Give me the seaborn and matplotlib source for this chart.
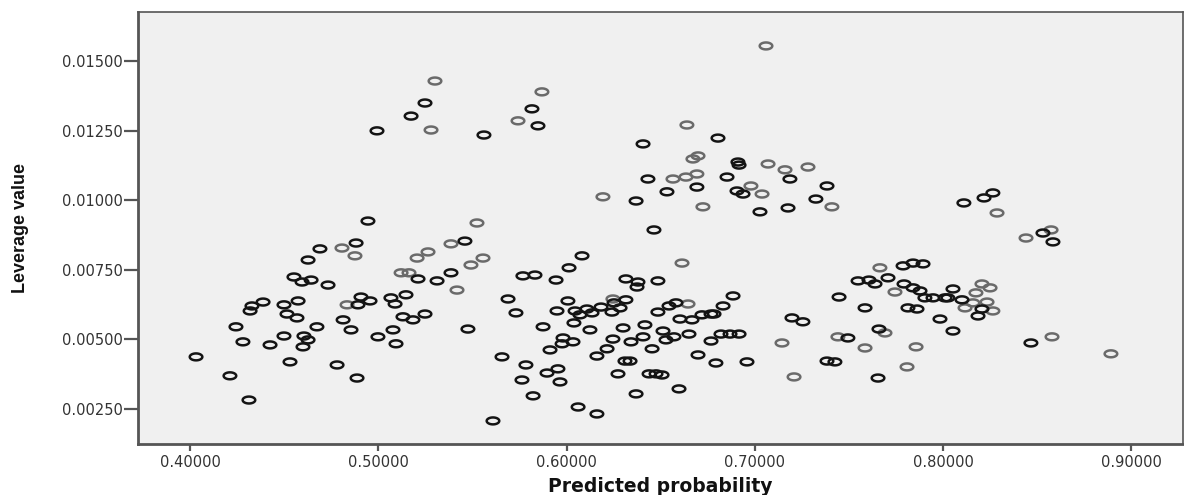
import numpy as np
import pandas as pd
import matplotlib
matplotlib.use("Agg")
import matplotlib.pyplot as plt
from matplotlib.path import Path
import seaborn as sns

# darker (overlapping) circles
x_dark = [0.4993, 0.4945, 0.4882, 0.4690, 0.4627, 0.4552, 0.4595, 0.4643, 0.4733, 0.4388,
          0.4329, 0.4319, 0.4499, 0.4574, 0.4892, 0.4908, 0.4956, 0.5067, 0.5089, 0.4515,
          0.4568, 0.4813, 0.4244, 0.4674, 0.4855, 0.5131, 0.4499, 0.4605, 0.4627, 0.4600,
          0.4281, 0.4425, 0.4998, 0.5078, 0.5094, 0.4032, 0.4531, 0.4781, 0.4212, 0.4887,
          0.4313, 0.5184, 0.5248, 0.5147, 0.5211, 0.5312, 0.5386, 0.5460, 0.5476, 0.5689,
          0.5731, 0.5657, 0.5784, 0.5763, 0.5822, 0.5609, 0.5768, 0.5832, 0.5944, 0.6013,
          0.6082, 0.6007, 0.5949, 0.6045, 0.6108, 0.6071, 0.6135, 0.6183, 0.6039, 0.6124,
          0.5875, 0.5981, 0.5976, 0.6034, 0.5912, 0.5896, 0.5954, 0.5965, 0.6061, 0.6161,
          0.6161, 0.6315, 0.6379, 0.6374, 0.6485, 0.6252, 0.6315, 0.6284, 0.6241, 0.6300,
          0.6416, 0.6246, 0.6342, 0.6406, 0.6512, 0.6528, 0.6570, 0.6215, 0.6454, 0.6310,
          0.6337, 0.6273, 0.6438, 0.6507, 0.6475, 0.6369, 0.6597, 0.6464, 0.6485, 0.6544,
          0.6581, 0.6602, 0.6666, 0.6719, 0.6767, 0.6783, 0.6831, 0.6884, 0.6650, 0.6767,
          0.6698, 0.6793, 0.6820, 0.6868, 0.6916, 0.6958, 0.7197, 0.7255,
          0.6406, 0.6804, 0.6910, 0.6916, 0.6432, 0.6852, 0.7186, 0.6533, 0.6692, 0.6905,
          0.6937, 0.6369, 0.7027, 0.7176, 0.7324, 0.7383, 0.5248, 0.5174, 0.5816, 0.5848,
          0.5561, 0.8110, 0.8217, 0.8264, 0.8530, 0.8583, 0.8466,
          0.7787, 0.7840, 0.7893, 0.7548, 0.7606, 0.7638, 0.7707, 0.7792, 0.7840, 0.7877,
          0.7447, 0.7903, 0.7946, 0.8010, 0.8025, 0.8052, 0.8100, 0.8206, 0.8185, 0.7585,
          0.7813, 0.7861, 0.7983, 0.8052, 0.7494, 0.7659, 0.7383, 0.7425, 0.7654]
y_dark = [0.01249, 0.00925, 0.00846, 0.00825, 0.00785, 0.00724, 0.00706, 0.00713, 0.00695, 0.00634,
          0.00620, 0.00602, 0.00624, 0.00638, 0.00624, 0.00652, 0.00638, 0.00649, 0.00627, 0.00591,
          0.00577, 0.00570, 0.00545, 0.00545, 0.00534, 0.00581, 0.00512, 0.00512, 0.00498, 0.00473,
          0.00491, 0.00480, 0.00509, 0.00534, 0.00484, 0.00437, 0.00419, 0.00408, 0.00369, 0.00361,
          0.00282, 0.00570, 0.00591, 0.00660, 0.00717, 0.00710, 0.00739, 0.00853, 0.00537, 0.00645,
          0.00595, 0.00437, 0.00408, 0.00354, 0.00297, 0.00207, 0.00728, 0.00731, 0.00713, 0.00757,
          0.00800, 0.00638, 0.00602, 0.00602, 0.00609, 0.00588, 0.00595, 0.00616, 0.00559, 0.00534,
          0.00545, 0.00505, 0.00484, 0.00491, 0.00462, 0.00379, 0.00394, 0.00347, 0.00257, 0.00232,
          0.00440, 0.00717, 0.00706, 0.00688, 0.00710, 0.00631, 0.00642, 0.00613, 0.00598, 0.00541,
          0.00552, 0.00501, 0.00491, 0.00509, 0.00530, 0.00498, 0.00509, 0.00466, 0.00466, 0.00422,
          0.00422, 0.00376, 0.00376, 0.00372, 0.00376, 0.00304, 0.00322, 0.00893, 0.00598, 0.00620,
          0.00631, 0.00573, 0.00570, 0.00588, 0.00591, 0.00591, 0.00620, 0.00656, 0.00519, 0.00494,
          0.00444, 0.00415, 0.00519, 0.00519, 0.00519, 0.00419, 0.00577, 0.00563,
          0.01202, 0.01223, 0.01137, 0.01126, 0.01076, 0.01083, 0.01076, 0.01030, 0.01047, 0.01033,
          0.01022, 0.00997, 0.00958, 0.00972, 0.01004, 0.01051, 0.01349, 0.01302, 0.01328, 0.01267,
          0.01234, 0.00990, 0.01008, 0.01026, 0.00882, 0.00850, 0.00487,
          0.00764, 0.00774, 0.00771, 0.00710, 0.00713, 0.00699, 0.00721, 0.00699, 0.00685, 0.00674,
          0.00652, 0.00649, 0.00649, 0.00649, 0.00649, 0.00681, 0.00642, 0.00609, 0.00584, 0.00613,
          0.00613, 0.00609, 0.00573, 0.00530, 0.00505, 0.00537, 0.00422, 0.00419, 0.00361]

# lighter single circles
x_gray = [0.7059, 0.5301, 0.5869, 0.5280, 0.5742, 0.6639, 0.6671, 0.6698, 0.7070, 0.7160,
          0.7282, 0.6565, 0.6634, 0.6692, 0.6979, 0.7038, 0.6193, 0.6724, 0.7409, 0.8286,
          0.8440, 0.8573, 0.8578, 0.8891, 0.4807, 0.4876, 0.4834, 0.5121, 0.5163, 0.5386,
          0.5264, 0.5206, 0.5556, 0.5492, 0.5418, 0.5524, 0.6613, 0.6246, 0.6645, 0.7144,
          0.7208, 0.7664, 0.7744, 0.8206, 0.8249, 0.8174, 0.8233, 0.8158, 0.8116, 0.8264,
          0.7441, 0.7691, 0.7585, 0.7856, 0.7808]
y_gray = [0.01554, 0.01428, 0.01389, 0.01252, 0.01285, 0.01270, 0.01148, 0.01159, 0.01130, 0.01109,
          0.01119, 0.01076, 0.01083, 0.01094, 0.01051, 0.01022, 0.01012, 0.00976, 0.00976, 0.00954,
          0.00864, 0.00893, 0.00509, 0.00448, 0.00828, 0.00800, 0.00624, 0.00739, 0.00739, 0.00843,
          0.00814, 0.00792, 0.00792, 0.00767, 0.00677, 0.00918, 0.00774, 0.00645, 0.00627, 0.00487,
          0.00365, 0.00757, 0.00670, 0.00699, 0.00685, 0.00667, 0.00634, 0.00631, 0.00613, 0.00602,
          0.00509, 0.00523, 0.00469, 0.00473, 0.00401]

x_ticks = [0.4, 0.5, 0.6, 0.7, 0.8, 0.9]
y_ticks = [0.0025, 0.005, 0.0075, 0.01, 0.0125, 0.015]

sns.set_style("ticks")
plt.rcParams["font.family"] = ["DejaVu Sans"]

df = pd.concat([
    pd.DataFrame({"prob": x_dark, "lev": y_dark, "shade": "dark"}),
    pd.DataFrame({"prob": x_gray, "lev": y_gray, "shade": "gray"}),
])
edge = {"dark": "#141414", "gray": "#6a6a6a"}

# flattened ring (the SPSS export is stretched sideways)
t = np.linspace(0, 2 * np.pi, 61)
ring = Path(np.column_stack([np.cos(t), 0.55 * np.sin(t)]), closed=True)

fig = plt.figure(figsize=(11.84, 4.95), dpi=100)
ax = fig.add_axes([0.1166, 0.103, 0.8826, 0.8728])
ax.set_facecolor("#f0f0f0")

for shade in ["gray", "dark"]:
    sub = df[df["shade"] == shade]
    sns.scatterplot(data=sub, x="prob", y="lev", ax=ax, marker=ring, s=82,
                    color=edge[shade], facecolor="none", edgecolor=edge[shade],
                    linewidth=1.8, legend=False, zorder=3)

ax.set_xlim(0.3724, 0.9274)
ax.set_ylim(0.00124, 0.01676)
ax.set_xticks(x_ticks)
ax.set_xticklabels([f"{v:.5f}" for v in x_ticks])
ax.set_yticks(y_ticks)
ax.set_yticklabels([f"{v:.5f}" for v in y_ticks])

for side in ["left", "bottom"]:
    ax.spines[side].set_linewidth(2.0)
    ax.spines[side].set_color("#555555")
for side in ["top", "right"]:
    ax.spines[side].set_visible(True)
    ax.spines[side].set_linewidth(1.2)
    ax.spines[side].set_color("#555555")

ax.tick_params(axis="y", length=10, width=1.6, color="#555555", pad=1,
               labelsize=10.5, labelcolor="#333333")
ax.tick_params(axis="x", length=5, width=1.6, color="#555555", pad=3,
               labelsize=10.5, labelcolor="#333333")

ax.set_xlabel("Predicted probability", fontsize=13.5, fontweight="bold",
              color="#111111", labelpad=5)
ax.set_ylabel("Leverage value", fontsize=13, fontweight="bold",
              family=["Liberation Sans", "DejaVu Sans"], color="#111111", labelpad=24)

fig.savefig("out.png", dpi=100)
